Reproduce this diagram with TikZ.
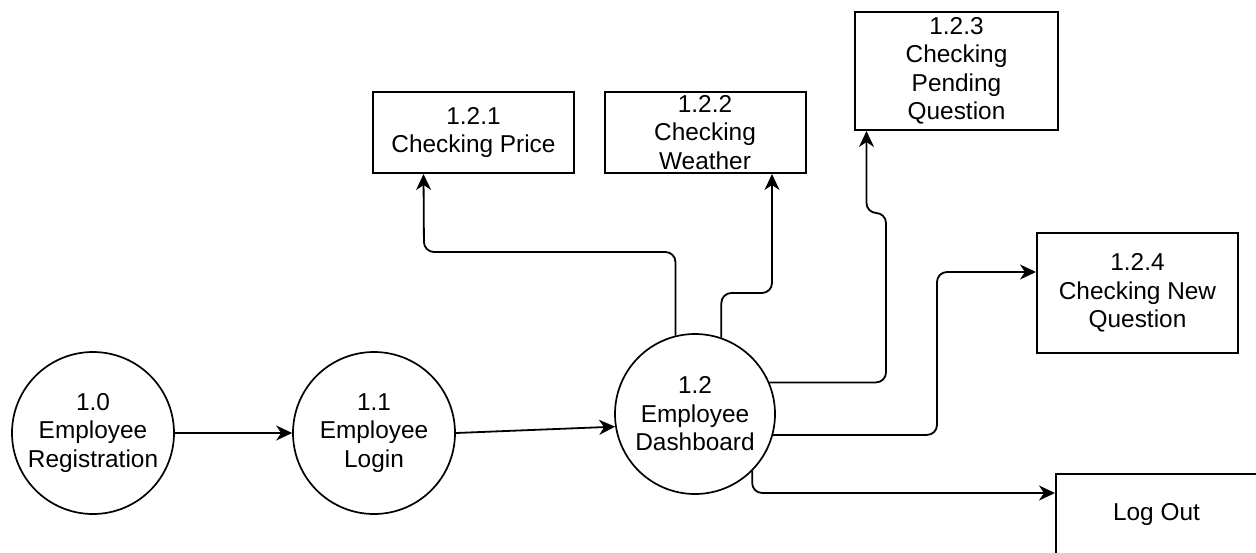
\documentclass[tikz,border=0pt]{standalone}
\usepackage{fontspec}
\setmainfont{Liberation Sans}
\usetikzlibrary{arrows.meta}
\begin{document}
\begin{tikzpicture}[x=1pt,y=-1pt,
  every node/.style={font=\fontsize{24.4}{28.5}\selectfont, align=center, text=black},
  process/.style={draw, circle, line width=1.7pt, minimum size=162pt, inner sep=0pt},
  entity/.style={draw, rectangle, line width=2pt, minimum width=201pt, minimum height=81pt, inner sep=0pt},
  flow/.style={line width=1.8pt, rounded corners=10pt, -{Stealth[length=16pt,width=15pt,inset=5pt]}}]
  \path[use as bounding box, fill=white] (0,0) rectangle (1256,552);
  \clip (0,0) rectangle (1256,552);

  % processes
  \node[process] (n10) at (93,433) {1.0\\Employee\\Registration};
  \node[process] (n11) at (374,433) {1.1\\Employee\\Login};
  \node[process, minimum size=160pt] (n12) at (695,414) {1.2\\Employee\\Dashboard};

  % sub-functions of the dashboard
  \node[entity] (b121) at (473.5,132.5) {1.2.1\\Checking Price};
  \node[entity] (b122) at (705,132.5) {1.2.2\\Checking\\Weather};
  \node[entity, minimum width=203pt, minimum height=118pt] (b123) at (956.5,71) {1.2.3\\Checking\\Pending\\Question};
  \node[entity, minimum height=120pt] (b124) at (1137.5,293) {1.2.4\\Checking New\\Question};
  \node[entity] (bout) at (1156.5,514.5) {Log Out};

  % flows
  \draw[flow] (n10) -- (n11);
  \draw[flow] (n11.east) -- (n12.189);
  \draw[flow] (n12.104) |- (424,252) -- ([xshift=-50pt]b121.south);
  \draw[flow] (n12.71) |- (772,293) -- ([xshift=67pt]b122.south);
  \draw[flow] (n12.23) -| (886,213) -| ([xshift=-90pt]b123.south);
  \draw[flow] (n12.-15) -| (937,272) -- ([yshift=21pt]b124.west);
  \draw[flow] (n12.-45) |- ([yshift=21.5pt]bout.west);
\end{tikzpicture}
\end{document}
